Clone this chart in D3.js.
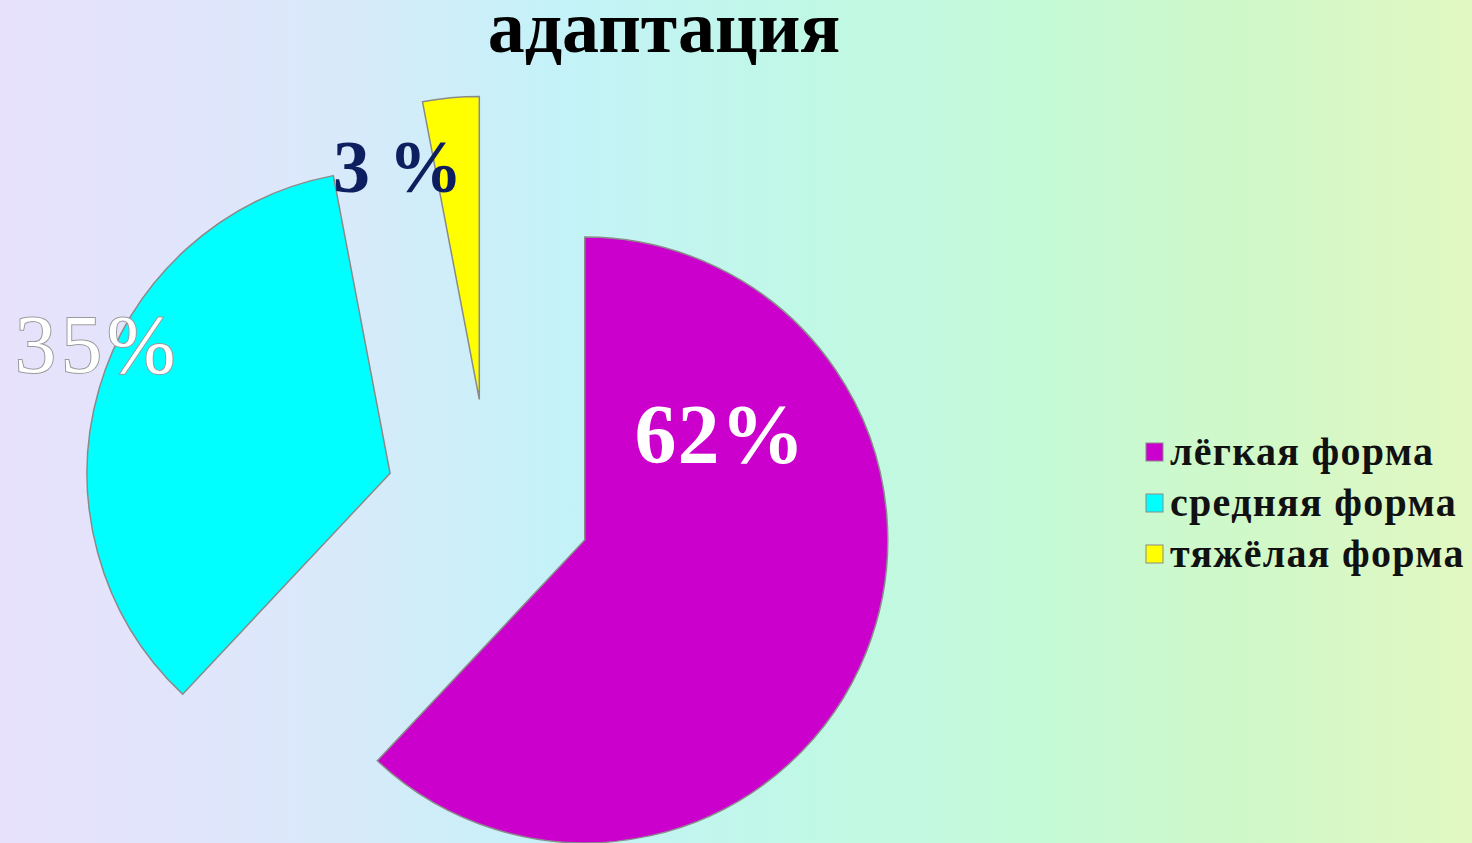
<!DOCTYPE html>
<html>
<head>
<meta charset="utf-8">
<script src="https://cdn.jsdelivr.net/npm/d3@7"></script>
<style>
  html, body { margin: 0; padding: 0; overflow: hidden; }
  svg { display: block; }
</style>
</head>
<body>
<div id="chart"></div>
<script>
// data
var title = "адаптация";
var categories = ["лёгкая форма", "средняя форма", "тяжёлая форма"];
var values = [62, 35, 3];
var labels = ["62%", "35%", "3 %"];
var colors = ["#cc00cc", "#00ffff", "#ffff00"];

var W = 1472, H = 843;
var cx = 489, cy = 502, R = 303, explode = 103;

var svg = d3.select("#chart").append("svg").attr("width", W).attr("height", H);

// background gradient
var defs = svg.append("defs");
var grad = defs.append("linearGradient").attr("id", "bg").attr("x1", 0).attr("x2", 1).attr("y1", 0).attr("y2", 0);
[[0, "#e8e1fc"], [0.2, "#dce8fb"], [0.38, "#c4f2f8"], [0.55, "#c0f8e6"], [0.72, "#c6fad6"], [0.85, "#d0f8c8"], [1, "#e2f8c2"]]
  .forEach(function(s){ grad.append("stop").attr("offset", s[0]).attr("stop-color", s[1]); });
svg.append("rect").attr("width", W).attr("height", H).attr("fill", "url(#bg)");

// pie
var pie = d3.pie().sort(null).value(function(d){ return d; });
var arc = d3.arc().innerRadius(0).outerRadius(R);
var arcs = pie(values);

var g = svg.append("g").attr("transform", "translate(" + cx + "," + cy + ")");
g.selectAll("path.slice").data(arcs).enter().append("path")
  .attr("class", "slice")
  .attr("d", arc)
  .attr("fill", function(d, i){ return colors[i]; })
  .attr("stroke", "#8a8a8a")
  .attr("stroke-width", 1.5)
  .attr("transform", function(d){
    var a = (d.startAngle + d.endAngle) / 2;
    return "translate(" + (Math.sin(a) * explode) + "," + (-Math.cos(a) * explode) + ")";
  });

// labels
svg.append("text").attr("x", 720).attr("y", 463)
  .attr("text-anchor", "middle")
  .attr("font-family", "Liberation Serif, Times New Roman, serif")
  .attr("font-weight", "bold").attr("font-size", 84)
  .attr("letter-spacing", 1)
  .attr("fill", "#ffffff")
  .text(labels[0]);

svg.append("text").attr("x", 15).attr("y", 372)
  .attr("font-family", "Liberation Serif, Times New Roman, serif")
  .attr("font-size", 82)
  .attr("letter-spacing", 5)
  .attr("fill", "#ffffff")
  .attr("stroke", "#9a9a9a").attr("stroke-width", 2)
  .attr("paint-order", "stroke")
  .text(labels[1]);

svg.append("text").attr("x", 333).attr("y", 192)
  .attr("font-family", "Liberation Serif, Times New Roman, serif")
  .attr("font-weight", "bold").attr("font-size", 74)
  .attr("fill", "#0d1f5e")
  .text(labels[2]);

// title
svg.append("text").attr("x", 664).attr("y", 52)
  .attr("text-anchor", "middle")
  .attr("font-family", "Liberation Serif, Times New Roman, serif")
  .attr("font-weight", "bold").attr("font-size", 74)
  .attr("fill", "#000")
  .text(title);

// legend
var leg = svg.append("g").attr("transform", "translate(1146,443)");
var item = leg.selectAll("g").data(categories).enter().append("g")
  .attr("transform", function(d, i){ return "translate(0," + (i * 51) + ")"; });
item.append("rect").attr("width", 17).attr("height", 18)
  .attr("fill", function(d, i){ return colors[i]; })
  .attr("stroke", "#8a8a8a").attr("stroke-width", 1);
item.append("text").attr("x", 24).attr("y", 22)
  .attr("font-family", "Liberation Serif, Times New Roman, serif")
  .attr("font-weight", "bold").attr("font-size", 40)
  .attr("letter-spacing", 1.3)
  .attr("fill", "#111")
  .text(function(d){ return d; });
</script>
</body>
</html>
